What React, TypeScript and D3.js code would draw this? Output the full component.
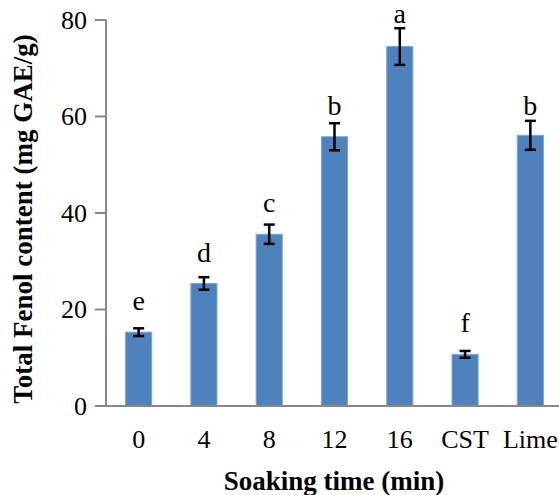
import React from "react";
import * as d3 from "d3";

const categories = ["0", "4", "8", "12", "16", "CST", "Lime"];
const values = [15.3, 25.4, 35.6, 55.8, 74.5, 10.7, 56.1];
const errors = [0.8, 1.3, 2.0, 2.8, 3.8, 0.7, 3.0];
const letters = ["e", "d", "c", "b", "a", "f", "b"];
const letterPos = [19.9, 29.9, 40.3, 60.3, 79.4, 15.4, 60.3];
const yTicks = [0, 20, 40, 60, 80];

const W = 559;
const H = 495;
const FONT = "'Liberation Serif', 'Times New Roman', serif";

export default function App() {
  const x = d3.scaleBand<string>().domain(categories).range([106, 563]).paddingInner(0.6).paddingOuter(0.3);
  const y = d3.scaleLinear().domain([0, 80]).range([406, 20]);
  const bw = x.bandwidth();
  const axisColor = "#878787";

  return (
    <svg
      width={W}
      height={H}
      style={{ position: "absolute", left: 0, top: 0, background: "#fff" }}
      fontFamily={FONT}
    >
      {categories.map((c, i) => {
        const cx = (x(c) as number) + bw / 2;
        return (
          <g key={c}>
            <rect
              x={x(c)}
              y={y(values[i])}
              width={bw}
              height={y(0) - y(values[i])}
              fill="#4F81BD"
              stroke="#7FA3D0"
              strokeWidth={1}
            />
            <g stroke="#000" strokeWidth={2.5}>
              <line x1={cx} x2={cx} y1={y(values[i] + errors[i])} y2={y(values[i] - errors[i])} />
              <line x1={cx - 5.5} x2={cx + 5.5} y1={y(values[i] + errors[i])} y2={y(values[i] + errors[i])} />
              <line x1={cx - 5.5} x2={cx + 5.5} y1={y(values[i] - errors[i])} y2={y(values[i] - errors[i])} />
            </g>
            <text x={cx} y={y(letterPos[i])} textAnchor="middle" fontSize={28} fill="#000">
              {letters[i]}
            </text>
            <text x={cx} y={448} textAnchor="middle" fontSize={26} fill="#000">
              {c}
            </text>
          </g>
        );
      })}
      <line x1={106} x2={W} y1={y(0)} y2={y(0)} stroke={axisColor} strokeWidth={2} />
      <line x1={106} x2={106} y1={y(0)} y2={y(80)} stroke={axisColor} strokeWidth={2} />
      {yTicks.map((t) => (
        <g key={t}>
          <line x1={95} x2={106} y1={y(t)} y2={y(t)} stroke={axisColor} strokeWidth={2} />
          <text x={87} y={y(t)} dy="0.34em" textAnchor="end" fontSize={26} fill="#000">
            {t}
          </text>
        </g>
      ))}
      <text x={334} y={490} textAnchor="middle" fontSize={27} fontWeight="bold" fill="#000">
        Soaking time (min)
      </text>
      <text
        transform={`translate(32, 219) rotate(-90)`}
        textAnchor="middle"
        fontSize={27}
        fontWeight="bold"
        fill="#000"
      >
        Total Fenol content (mg GAE/g)
      </text>
    </svg>
  );
}
